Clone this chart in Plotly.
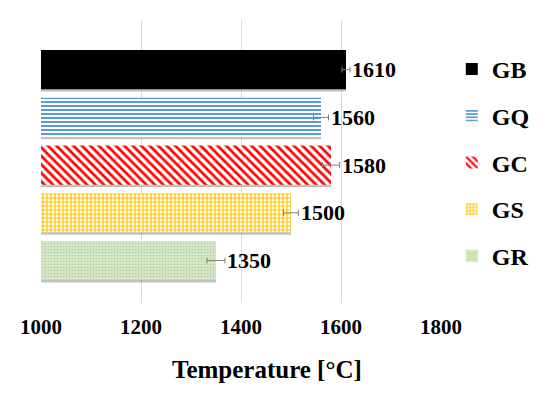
import plotly.graph_objects as go

names = ["GB", "GQ", "GC", "GS", "GR"]
temps = [1610, 1560, 1580, 1500, 1350]
errs = [8, 15, 17, 15, 18]
colors = ["#000000", "#5B9BD5", "#FF0000", "#FFC000", "#C5E0B4"]
shapes = ["", "-", "\\", "+", "."]
xticks = [1000, 1200, 1400, 1600, 1800]

FONT = "Liberation Serif"
BAR_W = 0.82

fig = go.Figure()

# soft shadow under each bar
for i, n in enumerate(names):
    fig.add_trace(go.Bar(
        x=[temps[i]], y=[n], orientation="h", width=BAR_W, offset=-BAR_W / 2 + 0.05,
        marker=dict(color="rgba(100,100,100,0.4)", line=dict(width=0)),
        showlegend=False, hoverinfo="skip",
    ))

for i, n in enumerate(names):
    if shapes[i] == "":
        marker = dict(color=colors[i], line=dict(width=0))
    elif n == "GR":
        marker = dict(color="#DCEBD0", line=dict(width=0),
                      pattern=dict(shape=".", fgcolor="#B5D4A0", bgcolor="#DCEBD0",
                                   size=3, solidity=0.4, fillmode="replace"))
    elif n == "GS":
        marker = dict(color="white", line=dict(width=0),
                      pattern=dict(shape="+", fgcolor=colors[i], bgcolor="white",
                                   size=4, solidity=0.5, fillmode="replace"))
    elif n == "GC":
        marker = dict(color="white", line=dict(width=0),
                      pattern=dict(shape="\\", fgcolor=colors[i], bgcolor="white",
                                   size=6, solidity=0.45, fillmode="replace"))
    else:
        marker = dict(color="white", line=dict(width=0),
                      pattern=dict(shape="-", fgcolor=colors[i], bgcolor="white",
                                   size=4, solidity=0.5, fillmode="replace"))
    fig.add_trace(go.Bar(
        x=[temps[i]], y=[n], orientation="h", name=f"<b>{n}</b>", width=BAR_W,
        offset=-BAR_W / 2, marker=marker, legendgroup=n,
        error_x=dict(type="data", array=[errs[i]], color="#808080", thickness=1, width=3),
    ))
    fig.add_annotation(x=temps[i] + errs[i], y=n, text=f"<b>{temps[i]}</b>",
                       showarrow=False, xanchor="left", xshift=0,
                       font=dict(family=FONT, size=22, color="black"))

# axis title (sits right of the axis centre in the original)
fig.add_annotation(xref="paper", yref="paper", x=0.565, y=-0.235,
                   xanchor="center", yanchor="middle", showarrow=False,
                   text="<b>Temperature [°C]</b>",
                   font=dict(family=FONT, size=25, color="black"))

fig.update_layout(
    width=542, height=390,
    margin=dict(l=33, r=109, t=12, b=95, autoexpand=False),
    paper_bgcolor="white", plot_bgcolor="white",
    barmode="overlay",
    showlegend=True,
    legend=dict(x=1.027, y=0.905, xanchor="left", yanchor="top",
                font=dict(family=FONT, size=24, color="black"),
                tracegroupgap=12.5, traceorder="grouped",
                bgcolor="rgba(0,0,0,0)"),
    xaxis=dict(range=[1000, 1800], tickvals=xticks,
               ticktext=[f"<b>{t}</b>" for t in xticks],
               showgrid=True, gridcolor="#D9D9D9", gridwidth=1,
               zeroline=False, showline=False, ticks="",
               ticklabelstandoff=9, automargin=False,
               tickfont=dict(family=FONT, size=21, color="black")),
    yaxis=dict(categoryorder="array", categoryarray=names,
               range=[4.89, -1.04], showticklabels=False, showgrid=False,
               zeroline=False, showline=False, ticks="", automargin=False),
)

fig.write_html("out.html")
